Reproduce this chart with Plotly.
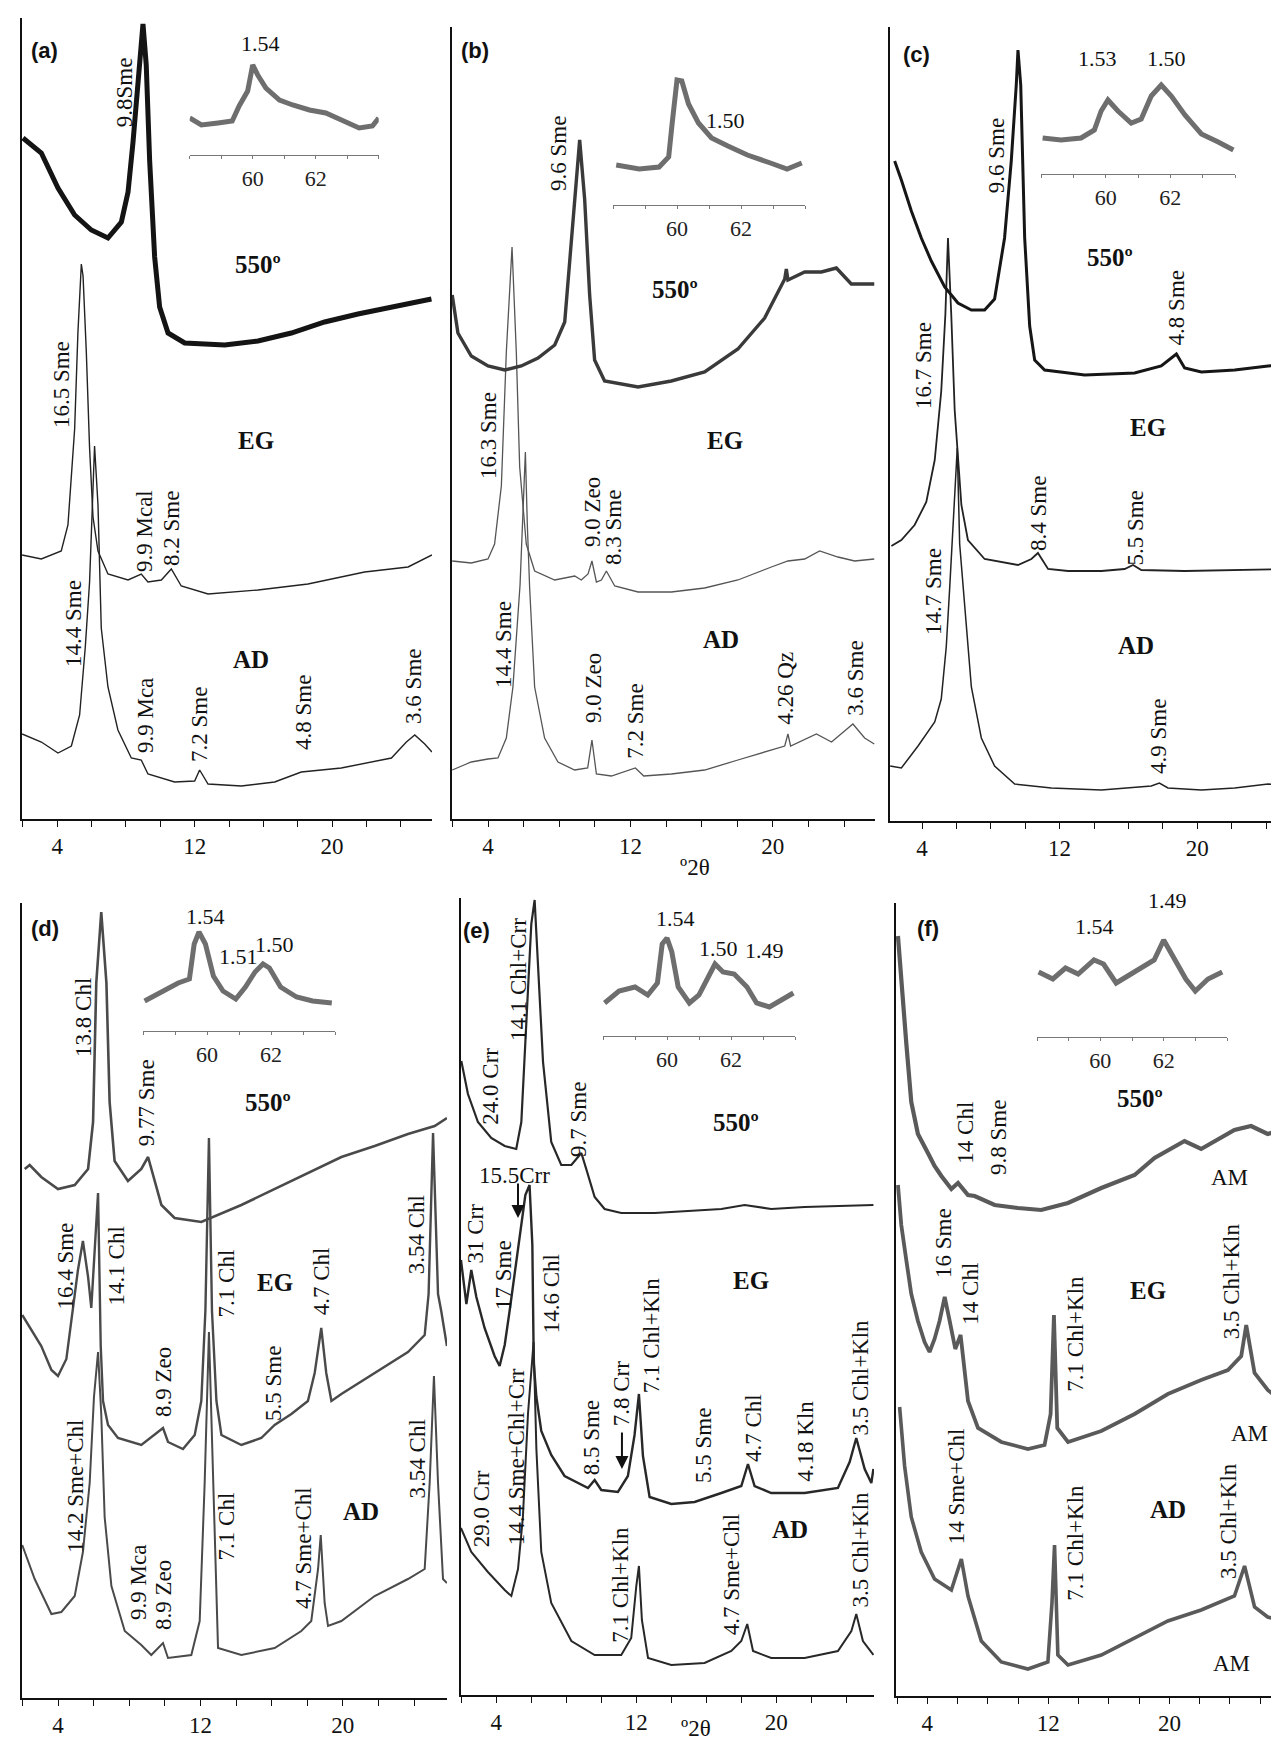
import plotly.graph_objects as go

W, H = 1279, 1739

# ---------------- data (2theta in degrees, intensity in arbitrary counts) ----------------
# panel (a)
a_550_x = [2.0, 3.07, 4.04, 5.01, 5.98, 6.95, 7.73, 8.12, 8.41, 8.7, 8.99, 9.18, 9.38, 9.67, 9.96, 10.45, 11.42, 13.75, 15.69, 17.63, 19.57, 21.51, 23.46, 25.79]
a_550_y = [681, 666, 631, 604, 589, 581, 597, 627, 677, 734, 795, 754, 658, 562, 512, 486, 476, 474, 478, 486, 497, 505, 512, 520]
a_EG_x = [1.95, 3.07, 4.23, 4.62, 5.01, 5.2, 5.4, 5.5, 5.69, 5.88, 6.08, 6.37, 6.95, 8.12, 8.89, 9.28, 10.06, 10.64, 11.22, 12.78, 15.69, 18.6, 21.9, 24.43, 25.82]
a_EG_y = [264, 260, 268, 294, 390, 486, 555, 543, 467, 371, 302, 268, 245, 239, 245, 237, 239, 250, 233, 225, 229, 235, 247, 252, 264]
a_AD_x = [1.95, 3.07, 4.04, 4.82, 5.3, 5.63, 5.88, 6.08, 6.17, 6.37, 6.56, 6.95, 7.53, 8.31, 8.89, 9.28, 10.83, 12.0, 12.29, 12.78, 14.72, 16.66, 18.21, 20.54, 23.46, 24.33, 24.82, 25.4, 25.82]
a_AD_y = [85, 77, 66, 73, 104, 172, 237, 333, 373, 314, 191, 132, 89, 61, 59, 45, 37, 38, 49, 35, 33, 37, 47, 51, 61, 77, 84, 75, 67]
a_in_x = [58.0, 58.37, 58.9, 59.35, 59.57, 59.84, 60.0, 60.16, 60.42, 60.85, 61.27, 61.8, 62.32, 62.85, 63.38, 63.8, 64.0]
a_in_y = [37, 30, 32, 34, 49, 64, 90, 80, 67, 55, 50, 45, 42, 34, 27, 29, 37]

# panel (b)
b_550_x = [1.99, 2.31, 3.06, 4.0, 4.94, 5.87, 6.81, 7.75, 8.31, 8.68, 8.96, 9.15, 9.43, 9.71, 9.99, 10.55, 12.43, 14.3, 16.17, 18.04, 19.54, 20.67, 20.76, 20.85, 21.79, 22.73, 23.57, 24.41, 25.7]
b_550_y = [524, 486, 463, 453, 449, 453, 461, 474, 497, 574, 639, 679, 620, 524, 459, 438, 432, 438, 447, 470, 501, 540, 550, 539, 547, 547, 551, 535, 535]
b_EG_x = [1.99, 3.06, 4.0, 4.37, 4.75, 5.03, 5.35, 5.59, 5.78, 6.15, 6.62, 7.75, 8.87, 9.24, 9.62, 9.84, 10.09, 10.37, 10.65, 11.12, 12.43, 14.3, 16.17, 18.04, 19.92, 20.85, 21.79, 22.63, 23.66, 24.6, 25.7]
b_EG_y = [258, 256, 260, 275, 333, 467, 572, 467, 352, 275, 248, 239, 243, 239, 245, 258, 237, 239, 248, 233, 227, 227, 231, 239, 252, 258, 260, 268, 262, 258, 260]
b_AD_x = [1.99, 3.06, 4.0, 4.56, 5.03, 5.4, 5.8, 6.0, 6.1, 6.21, 6.34, 6.62, 7.18, 7.93, 8.87, 9.6, 9.84, 10.09, 10.93, 12.28, 12.75, 14.3, 16.17, 18.04, 19.92, 20.67, 20.85, 21.0, 22.45, 23.3, 24.5, 25.16, 25.7]
b_AD_y = [49, 57, 60, 61, 81, 132, 234, 314, 367, 294, 231, 132, 81, 57, 49, 51, 79, 45, 43, 51, 43, 45, 49, 59, 69, 73, 85, 73, 85, 77, 95, 81, 75]
b_in_x = [58.1, 58.82, 59.44, 59.74, 59.85, 60.0, 60.15, 60.36, 60.67, 61.08, 61.59, 62.2, 62.92, 63.44, 63.9]
b_in_y = [40, 36, 38, 48, 82, 125, 124, 101, 82, 67, 59, 50, 42, 36, 42]

# panel (c)
c_550_x = [2.41, 2.8, 3.38, 3.96, 4.54, 5.32, 6.09, 6.87, 7.64, 8.22, 8.8, 9.19, 9.48, 9.58, 9.74, 9.97, 10.26, 10.55, 11.13, 13.46, 16.36, 17.91, 18.79, 19.27, 20.24, 22.18, 24.12, 25.16]
c_550_y = [660, 641, 610, 583, 560, 534, 518, 511, 511, 522, 583, 660, 736, 771, 736, 583, 495, 461, 451, 446, 448, 455, 467, 453, 449, 451, 455, 457]
c_EG_x = [2.22, 2.8, 3.57, 4.25, 4.74, 5.12, 5.36, 5.51, 5.7, 5.9, 6.29, 6.67, 7.64, 9.58, 10.36, 10.74, 11.33, 12.49, 14.43, 15.78, 16.27, 16.75, 19.27, 22.18, 25.16]
c_EG_y = [275, 281, 296, 319, 361, 430, 507, 583, 507, 411, 316, 281, 262, 256, 262, 268, 252, 250, 250, 252, 256, 251, 250, 251, 252]
c_AD_x = [2.15, 2.8, 3.77, 4.74, 5.12, 5.41, 5.61, 5.8, 6.05, 6.19, 6.48, 6.87, 7.45, 8.22, 9.39, 11.52, 14.43, 17.33, 17.8, 18.3, 20.24, 22.18, 24.12, 25.16]
c_AD_y = [55, 53, 75, 99, 122, 174, 233, 293, 373, 277, 213, 134, 83, 55, 37, 33, 31, 35, 38, 33, 31, 33, 37, 35]
c_in_x = [58.05, 58.62, 59.24, 59.65, 59.86, 60.07, 60.38, 60.79, 61.1, 61.41, 61.72, 62.03, 62.45, 62.96, 63.48, 63.95]
c_in_y = [36, 34, 36, 44, 63, 74, 63, 51, 55, 78, 89, 78, 59, 40, 32, 24]

# panel (d)
d_550_x = [2.13, 2.41, 3.06, 4.0, 4.94, 5.69, 5.97, 6.15, 6.43, 6.72, 6.9, 7.18, 7.93, 8.68, 9.06, 9.43, 9.81, 10.55, 12.05, 14.3, 16.17, 18.04, 19.92, 21.79, 23.66, 25.16, 25.85]
d_550_y = [529, 533, 521, 509, 513, 529, 576, 715, 786, 715, 596, 537, 517, 529, 541, 517, 493, 480, 476, 493, 509, 525, 541, 552, 564, 572, 580]
d_EG_x = [1.99, 3.06, 3.63, 4.0, 4.47, 4.84, 5.12, 5.4, 5.69, 5.87, 6.1, 6.25, 6.4, 6.53, 6.81, 7.37, 8.68, 9.9, 10.18, 11.02, 11.68, 12.05, 12.28, 12.48, 12.65, 12.9, 13.18, 14.3, 15.42, 16.17, 17.11, 18.04, 18.42, 18.79, 19.07, 19.36, 19.92, 21.79, 23.66, 24.6, 24.82, 25.07, 25.35, 25.53, 25.85]
d_EG_y = [383, 352, 328, 322, 339, 387, 428, 457, 421, 390, 456, 505, 352, 297, 273, 260, 253, 270, 256, 249, 263, 297, 387, 560, 387, 297, 263, 253, 260, 273, 284, 297, 325, 370, 325, 297, 304, 325, 346, 363, 404, 565, 404, 387, 352]
d_AD_x = [1.99, 2.69, 3.63, 4.19, 4.94, 5.4, 5.78, 6.02, 6.25, 6.43, 6.62, 7.0, 7.75, 8.68, 9.24, 9.9, 10.18, 11.49, 11.96, 12.24, 12.48, 12.71, 12.99, 14.3, 16.17, 17.67, 18.23, 18.61, 18.76, 18.98, 19.17, 19.92, 21.79, 23.66, 24.6, 24.88, 25.12, 25.35, 25.63, 25.85]
d_AD_y = [153, 119, 84, 86, 102, 146, 215, 301, 346, 284, 181, 112, 67, 53, 43, 55, 40, 43, 77, 215, 366, 215, 50, 43, 50, 67, 77, 129, 163, 95, 72, 77, 102, 119, 129, 215, 322, 215, 119, 115]
d_in_x = [58.05, 58.6, 59.1, 59.45, 59.6, 59.75, 59.95, 60.2, 60.5, 60.9, 61.2, 61.5, 61.75, 61.95, 62.3, 62.8, 63.3, 63.9]
d_in_y = [30, 40, 48, 52, 87, 99, 87, 55, 40, 32, 44, 59, 67, 63, 44, 34, 30, 28]

# panel (e)
e_550_x = [2.0, 2.38, 2.95, 3.71, 4.48, 5.14, 5.43, 5.71, 6.0, 6.19, 6.38, 6.67, 7.14, 7.71, 8.29, 8.86, 9.14, 9.62, 10.19, 11.14, 13.05, 14.95, 16.86, 18.19, 19.71, 21.62, 24.48, 25.55]
e_550_y = [634, 601, 573, 557, 549, 546, 573, 672, 771, 795, 731, 633, 553, 530, 530, 542, 526, 498, 486, 482, 482, 484, 486, 490, 486, 488, 490, 490]
e_EG_x = [1.98, 2.29, 2.57, 2.86, 3.33, 3.9, 4.19, 4.48, 4.76, 5.14, 5.43, 5.66, 5.9, 6.06, 6.14, 6.29, 6.57, 7.14, 7.9, 9.24, 9.62, 10.0, 10.95, 11.52, 11.9, 12.15, 12.38, 12.76, 14.0, 15.33, 16.86, 18.0, 18.38, 18.76, 19.71, 21.62, 23.52, 24.19, 24.57, 25.05, 25.43, 25.55]
e_EG_y = [435, 391, 425, 398, 367, 339, 329, 350, 384, 435, 470, 500, 510, 450, 332, 298, 264, 240, 219, 207, 215, 205, 203, 219, 260, 301, 239, 198, 191, 193, 202, 209, 231, 209, 202, 202, 207, 233, 257, 226, 212, 226]
e_AD_x = [1.98, 2.57, 3.52, 4.48, 4.86, 5.24, 5.52, 5.81, 6.13, 6.29, 6.57, 7.14, 8.29, 9.62, 11.14, 11.71, 12.0, 12.15, 12.32, 12.67, 14.0, 15.9, 17.43, 18.0, 18.34, 18.67, 19.71, 21.62, 23.52, 24.29, 24.57, 24.95, 25.55]
e_AD_y = [167, 143, 123, 105, 99, 126, 178, 281, 353, 246, 143, 92, 54, 40, 40, 57, 109, 129, 75, 37, 30, 32, 44, 54, 71, 44, 37, 37, 44, 64, 81, 54, 40]
e_in_x = [58.05, 58.5, 59.0, 59.4, 59.7, 59.85, 60.0, 60.15, 60.35, 60.7, 61.0, 61.3, 61.5, 61.75, 62.1, 62.5, 62.8, 63.2, 63.6, 63.95]
e_in_y = [33, 45, 49, 41, 53, 92, 98, 84, 49, 33, 41, 60, 72, 64, 62, 49, 33, 29, 37, 43]

# panel (f)
f_550_x = [2.06, 2.28, 2.61, 2.94, 3.38, 4.04, 4.48, 4.93, 5.59, 6.03, 6.69, 7.13, 8.45, 9.99, 11.53, 13.3, 15.5, 17.7, 19.02, 21.0, 22.1, 24.3, 25.4, 26.5, 27.4]
f_550_y = [760, 713, 653, 594, 562, 543, 530, 520, 507, 513, 501, 500, 491, 488, 486, 493, 508, 521, 538, 555, 547, 566, 570, 562, 566]
f_EG_x = [2.06, 2.28, 2.61, 2.94, 3.38, 3.82, 4.15, 4.48, 4.81, 5.15, 5.48, 5.85, 6.2, 6.47, 6.69, 7.35, 8.89, 10.65, 11.75, 12.15, 12.37, 12.59, 13.3, 15.5, 17.7, 19.9, 22.1, 23.87, 24.75, 25.08, 25.63, 26.5, 27.4]
f_EG_y = [511, 471, 436, 402, 375, 354, 344, 357, 375, 399, 375, 347, 361, 326, 295, 268, 254, 247, 251, 282, 381, 268, 254, 265, 282, 302, 316, 326, 340, 371, 323, 306, 295]
f_AD_x = [2.17, 2.5, 2.94, 3.6, 4.48, 5.59, 6.25, 6.69, 7.57, 8.89, 10.65, 11.97, 12.24, 12.41, 12.63, 13.3, 15.5, 17.7, 19.9, 22.1, 24.3, 24.97, 25.63, 26.5, 27.4]
f_AD_y = [289, 230, 179, 144, 117, 106, 137, 100, 55, 34, 27, 34, 93, 151, 41, 31, 41, 58, 75, 86, 100, 130, 89, 79, 75]
f_in_x = [58.05, 58.5, 58.9, 59.3, 59.8, 60.1, 60.5, 60.9, 61.3, 61.7, 62.0, 62.3, 62.7, 63.0, 63.4, 63.85]
f_in_y = [65, 58, 69, 63, 77, 73, 54, 62, 69, 77, 97, 81, 58, 46, 58, 65]

# peak labels: (text, 2theta, intensity)
a_labels = [("9.8Sme", 7.9, 727), ("16.5 Sme", 4.22, 434), ("9.9 Mcal", 9.05, 288), ("8.2 Sme", 10.62, 291),
            ("14.4 Sme", 4.91, 196), ("9.9 Mca", 9.11, 103), ("7.2 Sme", 12.25, 95), ("4.8 Sme", 18.31, 106),
            ("3.6 Sme", 24.71, 133)]
b_labels = [("9.6 Sme", 7.93, 666), ("16.3 Sme", 4.0, 383), ("9.0 Zeo", 9.84, 307), ("8.3 Sme", 11.02, 292),
            ("14.4 Sme", 4.84, 175), ("9.0 Zeo", 9.9, 131), ("7.2 Sme", 12.24, 98), ("4.26 Qz", 20.67, 131),
            ("3.6 Sme", 24.6, 141)]
c_labels = [("9.6 Sme", 8.32, 665), ("4.8 Sme", 18.79, 513), ("16.7 Sme", 4.06, 455), ("8.4 Sme", 10.74, 308),
            ("5.5 Sme", 16.36, 293), ("14.7 Sme", 4.64, 229), ("4.9 Sme", 17.72, 85)]
d_labels = [("13.8 Chl", 5.4, 681), ("9.77 Sme", 8.96, 595), ("16.4 Sme", 4.37, 432), ("14.1 Chl", 7.28, 432),
            ("7.1 Chl", 13.46, 415), ("4.7 Chl", 18.79, 417), ("3.54 Chl", 24.13, 463), ("8.9 Zeo", 9.9, 316),
            ("5.5 Sme", 16.08, 314), ("14.2 Sme+Chl", 4.94, 212), ("3.54 Chl", 24.19, 239), ("7.1 Chl", 13.46, 172),
            ("4.7 Sme+Chl", 17.76, 150), ("9.9 Mca", 8.49, 116), ("8.9 Zeo", 9.9, 103)]
e_labels = [("14.1 Chl+Crr", 5.24, 715), ("24.0 Crr", 3.62, 609), ("9.7 Sme", 8.67, 575), ("31 Crr", 2.76, 461),
            ("17 Sme", 4.38, 420), ("14.6 Chl", 7.14, 401), ("7.1 Chl+Kln", 12.86, 360), ("7.8 Crr", 11.14, 302),
            ("8.5 Sme", 9.43, 257), ("5.5 Sme", 15.81, 250), ("4.7 Chl", 18.67, 267), ("4.18 Kln", 21.62, 254),
            ("3.5 Chl+Kln", 24.76, 317), ("29.0 Crr", 3.14, 186), ("14.4 Sme+Chl+Crr", 5.14, 238),
            ("7.1 Chl+Kln", 11.05, 110), ("4.7 Sme+Chl", 17.43, 121), ("3.5 Chl+Kln", 24.76, 145)]
f_labels = [("14 Chl", 6.47, 563), ("9.8 Sme", 8.67, 559), ("16 Sme", 5.04, 453), ("14 Chl", 6.8, 402),
            ("7.1 Chl+Kln", 13.74, 362), ("3.5 Chl+Kln", 24.09, 415), ("14 Sme+Chl", 5.92, 210),
            ("7.1 Chl+Kln", 13.74, 153), ("3.5 Chl+Kln", 23.87, 175)]
# treatment labels (bold)
a_treat = [("550º", 15.69, 555), ("EG", 15.57, 379), ("AD", 15.28, 160)]
b_treat = [("550º", 14.49, 530), ("EG", 17.3, 379), ("AD", 17.1, 180)]
c_treat = [("550º", 14.91, 564), ("EG", 17.14, 394), ("AD", 16.46, 176)]
d_treat = [("550º", 15.8, 596), ("EG", 16.17, 416), ("AD", 21.04, 187)]
e_treat = [("550º", 17.71, 573), ("EG", 18.57, 415), ("AD", 20.76, 166)]
f_treat = [("550º", 18.03, 598), ("EG", 18.58, 406), ("AD", 19.9, 187)]
# horizontal regular labels
e_flat = [("15.5Crr", 5.05, 520)]
f_flat = [("AM", 23.98, 519), ("AM", 25.3, 263), ("AM", 24.09, 33)]
# inset labels
a_in_lab = [("1.54", 60.26, 112)]
b_in_lab = [("1.54", 60.06, 143), ("1.50", 61.5, 84)]
c_in_lab = [("1.53", 59.76, 116), ("1.50", 61.87, 116)]
d_in_lab = [("1.54", 59.94, 115), ("1.51", 60.97, 75), ("1.50", 62.12, 87)]
e_in_lab = [("1.54", 60.28, 118), ("1.50", 61.6, 88), ("1.49", 63.06, 86)]
f_in_lab = [("1.54", 59.82, 111), ("1.49", 62.13, 137)]
# arrows in (e): (2theta of head, intensity of head, tail offset px)
e_arrows = [(5.24, 477, -36), (11.18, 226, -38)]

main_ticks = [2, 4, 6, 8, 10, 12, 14, 16, 18, 20, 22, 24, 26]
main_tick_text = {4: "4", 12: "12", 20: "20"}
inset_ticks = [58, 59, 60, 61, 62, 63, 64]
inset_tick_text = {60: "60", 62: "62"}

# ---------------- layout geometry (pixels) ----------------
panels = {
    'a': dict(x0=14, x1=424, f4=49.3, k=17.17, ytop=10, ybot=811),
    'b': dict(x0=444, x1=867, f4=480.0, k=17.8, ytop=19, ybot=811),
    'c': dict(x0=882, x1=1278, f4=914.0, k=17.2, ytop=19, ybot=813),
    'd': dict(x0=14, x1=439, f4=50.0, k=17.8, ytop=895, ybot=1690),
    'e': dict(x0=453, x1=866, f4=488.3, k=17.5, ytop=890, ybot=1687),
    'f': dict(x0=888, x1=1273, f4=919.3, k=15.13, ytop=895, ybot=1688),
}
insets = {
    'a': dict(x0=181.7, x1=370.7, ybot=147, h=115),
    'b': dict(x0=605, x1=797, ybot=197, h=140),
    'c': dict(x0=1033, x1=1227, ybot=166, h=120),
    'd': dict(x0=135, x1=327, ybot=1023, h=120),
    'e': dict(x0=595, x1=787, ybot=1028, h=120),
    'f': dict(x0=1029, x1=1219, ybot=1029, h=140),
}
letter_pos = {'a': (36, 42), 'b': (467, 43), 'c': (908, 47), 'd': (37, 920), 'e': (468, 922), 'f': (920, 920)}
styles = {
    'a': {'550': ('#141414', 5.0), 'EG': ('#222222', 1.4), 'AD': ('#222222', 1.4)},
    'b': {'550': ('#3a3a3a', 3.4), 'EG': ('#555555', 1.3), 'AD': ('#555555', 1.3)},
    'c': {'550': ('#161616', 3.0), 'EG': ('#222222', 1.8), 'AD': ('#222222', 1.5)},
    'd': {'550': ('#4a4a4a', 2.6), 'EG': ('#4a4a4a', 2.4), 'AD': ('#4a4a4a', 2.0)},
    'e': {'550': ('#282828', 2.2), 'EG': ('#282828', 2.4), 'AD': ('#282828', 2.0)},
    'f': {'550': ('#5a5a5a', 4.2), 'EG': ('#5a5a5a', 3.8), 'AD': ('#5a5a5a', 3.6)},
}
inset_style = ('#6e6e6e', 5.0)

data = {
    'a': (a_550_x, a_550_y, a_EG_x, a_EG_y, a_AD_x, a_AD_y, a_in_x, a_in_y, a_labels, a_treat, a_in_lab),
    'b': (b_550_x, b_550_y, b_EG_x, b_EG_y, b_AD_x, b_AD_y, b_in_x, b_in_y, b_labels, b_treat, b_in_lab),
    'c': (c_550_x, c_550_y, c_EG_x, c_EG_y, c_AD_x, c_AD_y, c_in_x, c_in_y, c_labels, c_treat, c_in_lab),
    'd': (d_550_x, d_550_y, d_EG_x, d_EG_y, d_AD_x, d_AD_y, d_in_x, d_in_y, d_labels, d_treat, d_in_lab),
    'e': (e_550_x, e_550_y, e_EG_x, e_EG_y, e_AD_x, e_AD_y, e_in_x, e_in_y, e_labels, e_treat, e_in_lab),
    'f': (f_550_x, f_550_y, f_EG_x, f_EG_y, f_AD_x, f_AD_y, f_in_x, f_in_y, f_labels, f_treat, f_in_lab),
}

SERIF = "Liberation Serif, Times New Roman, serif"
SANS = "Liberation Sans, Arial, sans-serif"

fig = go.Figure()
layout = dict(width=W, height=H, margin=dict(l=0, r=0, t=0, b=0),
              paper_bgcolor="white", plot_bgcolor="white", showlegend=False)
annotations = []


def aname(kind, n):
    return kind + ("axis" if n == 1 else "axis%d" % n)


def ref(kind, n):
    return kind + ("" if n == 1 else str(n))


for i, p in enumerate(['a', 'b', 'c', 'd', 'e', 'f']):
    n = i + 1
    m = i + 7
    g = panels[p]
    ins = insets[p]
    x550, y550, xeg, yeg, xad, yad, xin, yin, labs, treat, inlabs = data[p]
    r0 = 4 + (g['x0'] - g['f4']) / g['k']
    r1 = 4 + (g['x1'] - g['f4']) / g['k']
    ticks = [t for t in main_ticks if r0 <= t <= r1]
    layout[aname('x', n)] = dict(
        domain=[g['x0'] / W, g['x1'] / W], range=[r0, r1], anchor=ref('y', n),
        showline=True, linecolor="#111", linewidth=1.6, ticks="outside", ticklen=6, tickwidth=1.4,
        tickcolor="#111", tickvals=ticks, ticktext=[main_tick_text.get(t, "") for t in ticks],
        tickfont=dict(family=SERIF, size=23, color="#111"), showgrid=False, zeroline=False)
    layout[aname('y', n)] = dict(
        domain=[1 - g['ybot'] / H, 1 - g['ytop'] / H], range=[0, g['ybot'] - g['ytop']], anchor=ref('x', n),
        showline=True, linecolor="#111", linewidth=1.6, ticks="", showticklabels=False,
        showgrid=False, zeroline=False)
    layout[aname('x', m)] = dict(
        domain=[ins['x0'] / W, ins['x1'] / W], range=[58, 64], anchor=ref('y', m),
        showline=True, linecolor="#777", linewidth=1.3, ticks="outside", ticklen=3, tickwidth=1,
        tickcolor="#777", tickvals=inset_ticks, ticktext=[inset_tick_text.get(t, "") for t in inset_ticks],
        tickfont=dict(family=SERIF, size=22, color="#222"), showgrid=False, zeroline=False)
    layout[aname('y', m)] = dict(
        domain=[1 - ins['ybot'] / H, 1 - (ins['ybot'] - ins['h']) / H], range=[0, ins['h']],
        anchor=ref('x', m), visible=False, showgrid=False, zeroline=False)

    st = styles[p]
    for key, xs, ys in (('AD', xad, yad), ('EG', xeg, yeg), ('550', x550, y550)):
        col, w = st[key]
        fig.add_trace(go.Scatter(x=xs, y=ys, mode="lines", line=dict(color=col, width=w),
                                 xaxis=ref('x', n), yaxis=ref('y', n), hoverinfo="skip"))
    fig.add_trace(go.Scatter(x=xin, y=yin, mode="lines", line=dict(color=inset_style[0], width=inset_style[1]),
                             xaxis=ref('x', m), yaxis=ref('y', m), hoverinfo="skip"))

    for t, x, y in labs:
        annotations.append(dict(text=t, x=x, y=y, xref=ref('x', n), yref=ref('y', n), showarrow=False,
                                textangle=-90, xanchor="center", yanchor="middle",
                                font=dict(family=SERIF, size=23, color="#111")))
    for t, x, y in treat:
        annotations.append(dict(text="<b>%s</b>" % t, x=x, y=y, xref=ref('x', n), yref=ref('y', n),
                                showarrow=False, xanchor="center", yanchor="middle",
                                font=dict(family=SERIF, size=25, color="#111")))
    for t, x, y in inlabs:
        annotations.append(dict(text=t, x=x, y=y, xref=ref('x', m), yref=ref('y', m), showarrow=False,
                                xanchor="center", yanchor="middle",
                                font=dict(family=SERIF, size=22, color="#111")))
    lx, ly = letter_pos[p]
    annotations.append(dict(text="<b>(%s)</b>" % p, x=lx / W, y=1 - ly / H, xref="paper", yref="paper",
                            showarrow=False, xanchor="center", yanchor="middle",
                            font=dict(family=SANS, size=22, color="#111")))

for t, x, y in e_flat:
    annotations.append(dict(text=t, x=x, y=y, xref="x5", yref="y5", showarrow=False,
                            font=dict(family=SERIF, size=23, color="#111")))
for t, x, y in f_flat:
    annotations.append(dict(text=t, x=x, y=y, xref="x6", yref="y6", showarrow=False,
                            font=dict(family=SERIF, size=23, color="#111")))
for x, y, ay in e_arrows:
    annotations.append(dict(text="", x=x, y=y, xref="x5", yref="y5", showarrow=True, ax=0, ay=ay,
                            arrowhead=2, arrowsize=1.3, arrowwidth=2, arrowcolor="#111"))

for (px, py) in ((687, 859), (688, 1720)):
    annotations.append(dict(text="º2θ", x=px / W, y=1 - py / H, xref="paper", yref="paper", showarrow=False,
                            xanchor="center", yanchor="middle", font=dict(family=SERIF, size=23, color="#111")))

layout['annotations'] = annotations
fig.update_layout(**layout)
fig.write_html("out.html")
